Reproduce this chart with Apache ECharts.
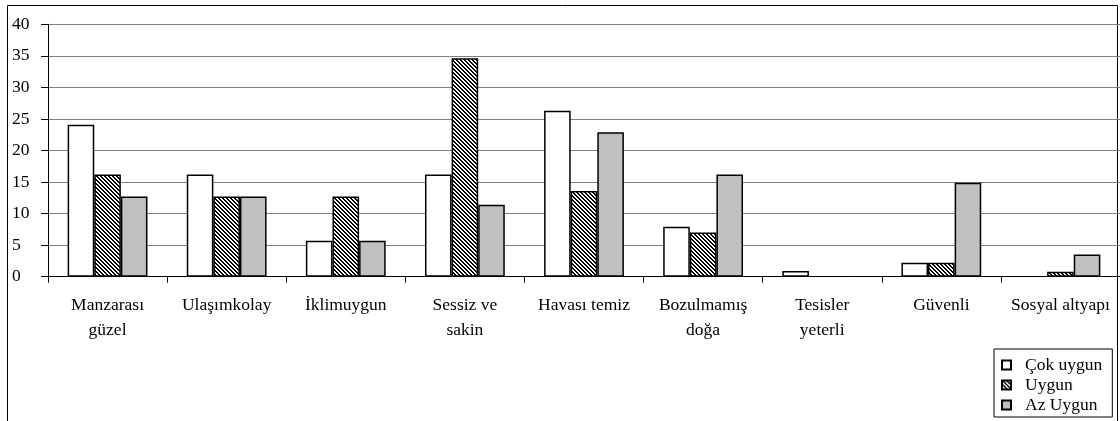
<!DOCTYPE html>
<html>
<head>
<meta charset="utf-8">
<script src="https://cdn.jsdelivr.net/npm/echarts@6/dist/echarts.min.js"></script>
<style>
  html, body { margin: 0; padding: 0; background: #fff; }
  #chart { width: 1120px; height: 421px; }
</style>
</head>
<body>
<div id="chart"></div>
<script>
const categories = ['Manzarası\ngüzel', 'Ulaşımkolay', 'İklimuygun', 'Sessiz ve\nsakin', 'Havası temiz', 'Bozulmamış\ndoğa', 'Tesisler\nyeterli', 'Güvenli', 'Sosyal altyapı'];
const seriesNames = ['Çok uygun', 'Uygun', 'Az Uygun'];
const cokUygun = [24.1, 16.2, 5.7, 16.2, 26.3, 7.9, 0.9, 2.2, 0];
const uygun    = [16.2, 12.7, 12.7, 34.6, 13.6, 7.0, 0, 2.2, 0.8];
const azUygun  = [12.7, 12.7, 5.7, 11.4, 22.9, 16.2, 0, 14.9, 3.5];
const yTicks = [0, 5, 10, 15, 20, 25, 30, 35, 40];

// diagonal hatch pattern "\\\\"
function hatch() {
  const c = document.createElement('canvas');
  const n = 4;
  c.width = n; c.height = n;
  const ctx = c.getContext('2d');
  const img = ctx.createImageData(n, n);
  for (let y = 0; y < n; y++) {
    for (let x = 0; x < n; x++) {
      const k = ((x - y) % n + n) % n;
      const black = k < 2;
      const i = (y * n + x) * 4;
      const v = black ? 0 : 255;
      img.data[i] = v; img.data[i + 1] = v; img.data[i + 2] = v; img.data[i + 3] = 255;
    }
  }
  ctx.putImageData(img, 0, 0);
  return c;
}
const hatchCanvas = hatch();

const font = '"Liberation Serif", "Times New Roman", serif';
const chart = echarts.init(document.getElementById('chart'), null, { renderer: 'canvas' });

const fills = ['#ffffff', { image: hatchCanvas, repeat: 'repeat' }, '#c0c0c0'];
const datas = [cokUygun, uygun, azUygun];

chart.setOption({
  animation: false,
  backgroundColor: '#fff',
  graphic: [{
    type: 'rect',
    shape: { x: 7.5, y: 5.5, width: 1110, height: 440 },
    style: { fill: 'none', stroke: '#000', lineWidth: 1 },
    silent: true,
    z: 0
  }],
  grid: { left: 48, top: 24.3, width: 1073, height: 252.4, containLabel: false },
  legend: {
    orient: 'vertical',
    left: 994,
    top: 349,
    padding: [7, 10, 3, 7],
    itemWidth: 9,
    itemHeight: 9,
    itemGap: 2,
    icon: 'rect',
    borderColor: '#000',
    borderWidth: 1,
    backgroundColor: '#fff',
    textStyle: { fontFamily: font, fontSize: 17.5, color: '#000', lineHeight: 18, padding: [0, 0, 0, 9] },
    data: seriesNames
  },
  xAxis: {
    type: 'category',
    data: categories,
    boundaryGap: true,
    axisLine: { show: true, lineStyle: { color: '#000', width: 1 } },
    axisTick: { show: true, length: 6, inside: false, lineStyle: { color: '#000' }, alignWithLabel: false },
    axisLabel: { interval: 0, margin: 16, fontFamily: font, fontSize: 17.5, color: '#000', lineHeight: 25 },
    splitLine: { show: false }
  },
  yAxis: {
    type: 'value',
    min: 0,
    max: 40,
    interval: 5,
    axisLine: { show: true, lineStyle: { color: '#000', width: 1 } },
    axisTick: { show: true, length: 7, lineStyle: { color: '#000' } },
    axisLabel: {
      margin: 36, align: 'left', fontFamily: font, fontSize: 17.5, color: '#000',
      formatter: v => yTicks.includes(v) ? String(v) : ''
    },
    splitLine: { show: true, lineStyle: { color: '#808080', width: 1 } }
  },
  series: seriesNames.map((name, i) => ({
    name,
    type: 'bar',
    data: datas[i].map(v => (v === 0 ? '-' : v)),
    barGap: '0%',
    barCategoryGap: '33%',
    itemStyle: { color: fills[i], borderColor: '#000', borderWidth: 1.5 },
    emphasis: { disabled: true }
  }))
});
</script>
</body>
</html>
